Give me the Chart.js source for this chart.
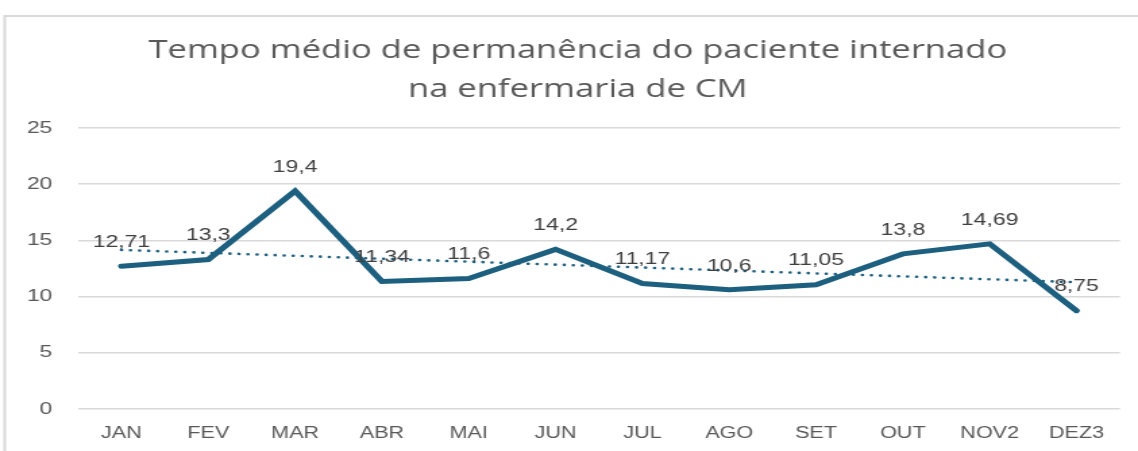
<!DOCTYPE html>
<html>
<head>
<meta charset="utf-8">
<script src="https://cdn.jsdelivr.net/npm/chart.js@4/dist/chart.umd.min.js"></script>
<style>
  html, body { margin: 0; padding: 0; background: #fff; overflow: hidden; }
  #c { display: block; width: 1138px; height: 451px; }
</style>
</head>
<body>
<!-- the source picture is stretched sideways, so the canvas is drawn narrower and widened by CSS -->
<canvas id="c" width="843" height="451" style="width:1138px;height:451px"></canvas>
<script>
const titleLines = ['Tempo médio de permanência do paciente internado', 'na enfermaria de CM'];
const months = ['JAN', 'FEV', 'MAR', 'ABR', 'MAI', 'JUN', 'JUL', 'AGO', 'SET', 'OUT', 'NOV2', 'DEZ3'];
const stayDays = [12.71, 13.3, 19.4, 11.34, 11.6, 14.2, 11.17, 10.6, 11.05, 13.8, 14.69, 8.75];
// trendline ends
const trendDays = [14.15, null, null, null, null, null, null, null, null, null, null, 11.28];
const yTicks = [0, 5, 10, 15, 20, 25];

const lineColor = '#1d5f7f';
const gridColor = '#d9d9d9';
const tickColor = '#595959';

const frameAndTitle = {
    id: 'frameAndTitle',
    beforeDraw(chart) {
        const ctx = chart.ctx;
        ctx.save();
        ctx.fillStyle = '#fff';
        ctx.fillRect(0, 0, chart.width, chart.height);
        ctx.strokeStyle = gridColor;
        ctx.lineWidth = 2;
        ctx.strokeRect(3.5, 16, chart.width + 20, chart.height + 20);
        ctx.restore();
    },
    afterDraw(chart) {
        const ctx = chart.ctx;
        ctx.save();
        ctx.fillStyle = tickColor;
        ctx.font = '25.6px "Open Sans"';
        ctx.textAlign = 'center';
        ctx.textBaseline = 'alphabetic';
        titleLines.forEach((line, i) => ctx.fillText(line, 428, 58 + i * 39));
        ctx.restore();
    }
};

const valueLabels = {
    id: 'valueLabels',
    afterDatasetsDraw(chart) {
        const ctx = chart.ctx;
        const meta = chart.getDatasetMeta(0);
        ctx.save();
        ctx.fillStyle = '#404040';
        ctx.font = '17px "Liberation Sans"';
        ctx.textAlign = 'center';
        ctx.textBaseline = 'middle';
        meta.data.forEach((pt, i) => {
            const text = String(stayDays[i]).replace('.', ',');
            ctx.fillText(text, pt.x, pt.y - 24);
        });
        ctx.restore();
    }
};

new Chart(document.getElementById('c'), {
    type: 'line',
    data: {
        labels: months,
        datasets: [
            {
                label: 'Tempo médio',
                data: stayDays,
                borderColor: lineColor,
                borderWidth: 5,
                borderJoinStyle: 'miter',
                borderCapStyle: 'round',
                pointRadius: 0,
                tension: 0,
                fill: false
            },
            {
                label: 'Tendência',
                data: trendDays,
                spanGaps: true,
                borderColor: lineColor,
                borderWidth: 2.6,
                borderDash: [0.1, 6.6],
                borderCapStyle: 'round',
                pointRadius: 0,
                fill: false
            }
        ]
    },
    options: {
        responsive: false,
        animation: false,
        layout: { padding: { top: 128, right: 13.4, bottom: 0, left: 0 } },
        scales: {
            x: {
                offset: true,
                grid: { display: false, drawTicks: false },
                border: { display: false },
                ticks: { color: tickColor, font: { family: 'Liberation Sans', size: 16 }, padding: 15, maxRotation: 0 },
                afterFit(scale) { scale.height = 42; }
            },
            y: {
                min: 0,
                max: 25,
                afterBuildTicks(scale) { scale.ticks = yTicks.map((v) => ({ value: v })); },
                grid: { color: gridColor, lineWidth: 1.5, drawTicks: false },
                border: { display: false },
                ticks: { color: tickColor, font: { family: 'Liberation Sans', size: 17 }, padding: 19 },
                afterFit(scale) { scale.width = 57.8; }
            }
        },
        plugins: {
            legend: { display: false },
            tooltip: { enabled: false }
        }
    },
    plugins: [frameAndTitle, valueLabels]
});
</script>
</body>
</html>
